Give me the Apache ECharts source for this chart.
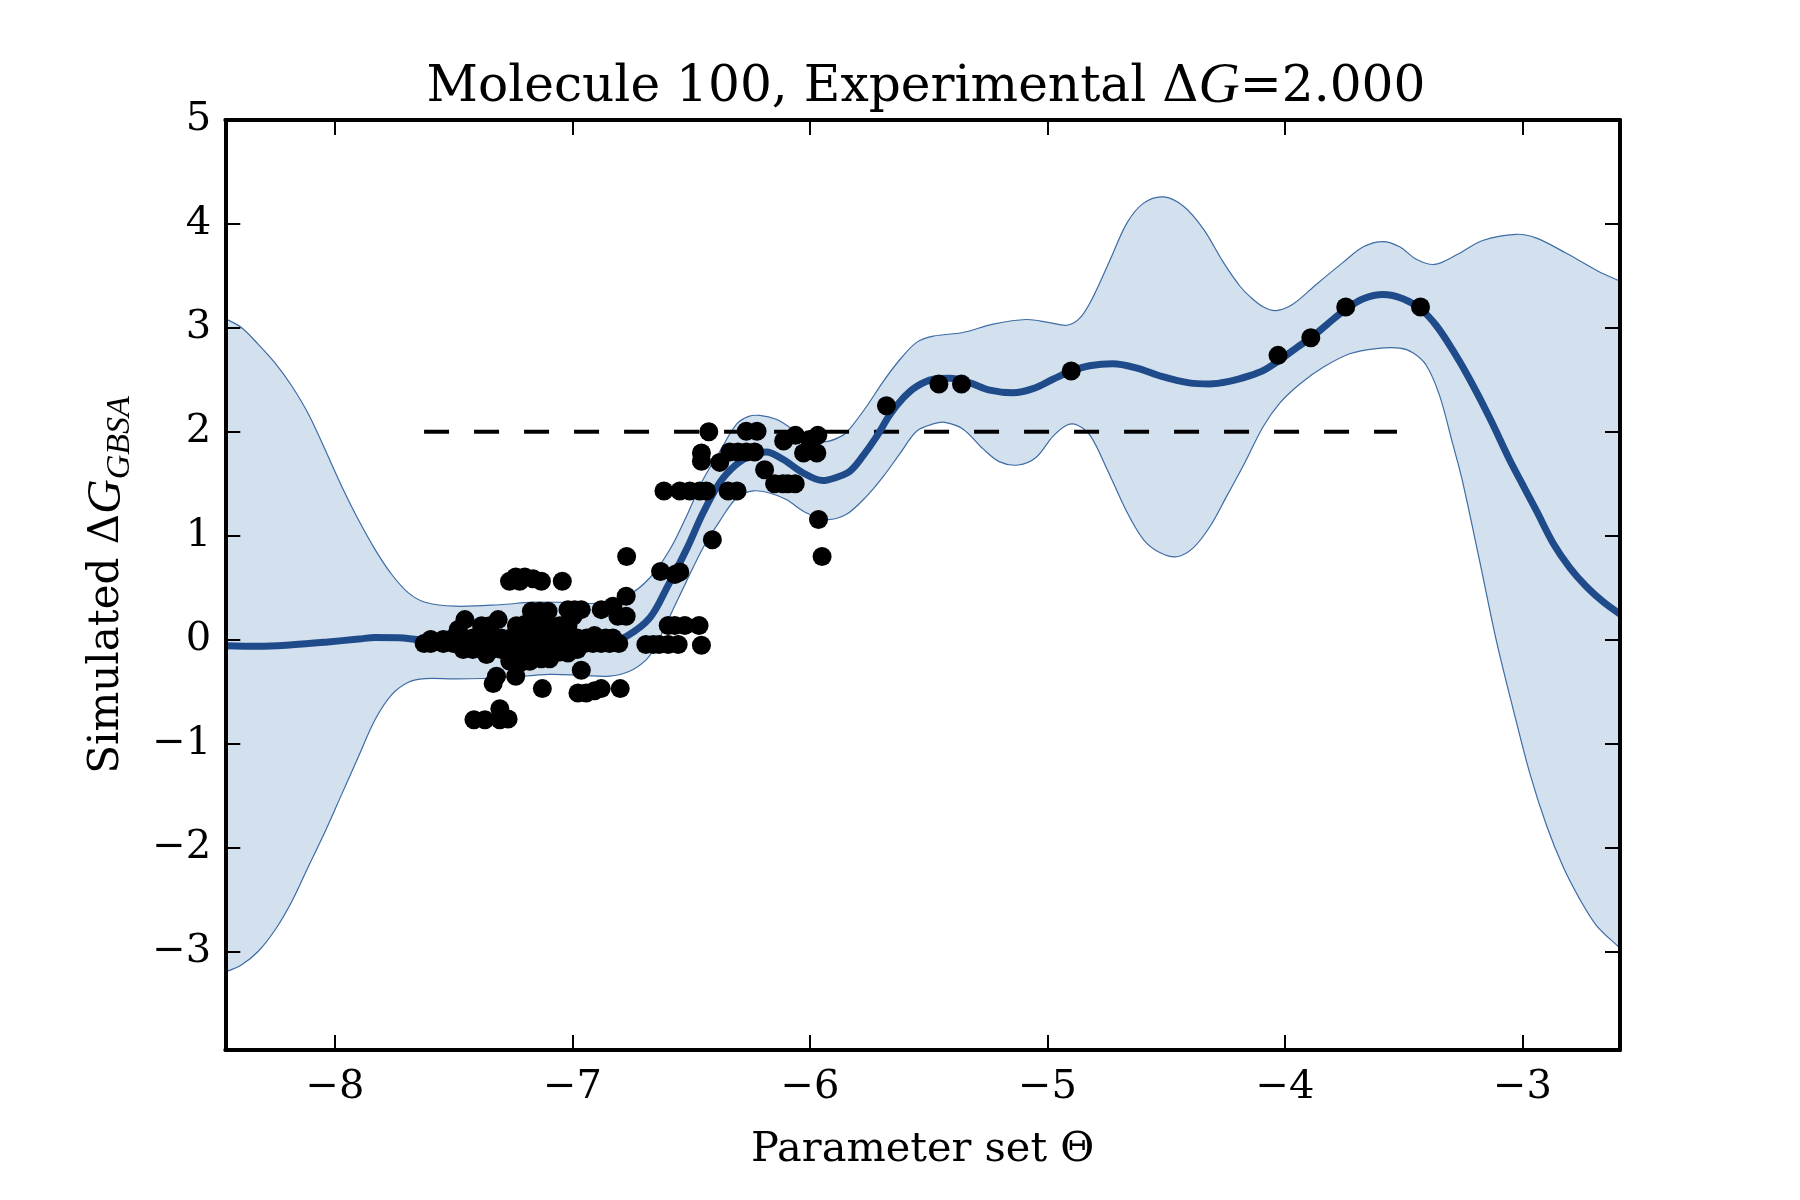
<!DOCTYPE html>
<html><head><meta charset="utf-8">
<style>html,body{margin:0;padding:0;background:#fff}#c{width:1800px;height:1200px}</style>
<script src="https://cdn.jsdelivr.net/npm/echarts@6/dist/echarts.min.js"></script>
</head><body><div id="c"></div>
<script>
const xTicks=[-8,-7,-6,-5,-4,-3];
const yTicks=[-3,-2,-1,0,1,2,3,4,5];
const upperX=[-8.5,-8.456,-8.393,-8.323,-8.252,-8.182,-8.112,-8.042,-7.972,-7.902,-7.831,-7.761,-7.691,-7.621,-7.495,-7.306,-7.166,-7.026,-6.886,-6.774,-6.676,-6.59,-6.52,-6.45,-6.38,-6.31,-6.261,-6.212,-6.142,-6.072,-6.002,-5.932,-5.862,-5.83,-5.761,-5.691,-5.621,-5.551,-5.481,-5.355,-5.229,-5.089,-4.991,-4.917,-4.861,-4.805,-4.735,-4.665,-4.595,-4.511,-4.427,-4.343,-4.259,-4.189,-4.147,-4.09,-4.037,-3.965,-3.867,-3.755,-3.67,-3.587,-3.517,-3.447,-3.37,-3.279,-3.167,-3.027,-2.943,-2.817,-2.677,-2.6,-2.56];
const upperY=[3.12,3.081,3.0,2.841,2.66,2.44,2.17,1.829,1.476,1.155,0.866,0.626,0.449,0.359,0.321,0.335,0.36,0.357,0.35,0.415,0.59,0.866,1.187,1.54,1.81,2.07,2.145,2.157,2.12,2.025,1.935,1.905,1.965,2.035,2.245,2.485,2.695,2.86,2.92,2.955,3.035,3.08,3.05,3.025,3.1,3.31,3.66,4.01,4.2,4.26,4.17,3.95,3.63,3.4,3.3,3.2,3.166,3.23,3.42,3.63,3.78,3.83,3.78,3.66,3.61,3.7,3.84,3.9,3.866,3.72,3.54,3.46,3.41];
const lowerX=[-8.5,-8.456,-8.393,-8.323,-8.252,-8.182,-8.112,-8.042,-7.972,-7.902,-7.831,-7.761,-7.691,-7.621,-7.495,-7.306,-7.096,-6.956,-6.844,-6.76,-6.69,-6.65,-6.59,-6.52,-6.45,-6.38,-6.31,-6.24,-6.17,-6.1,-6.016,-5.932,-5.848,-5.761,-5.691,-5.621,-5.551,-5.481,-5.432,-5.355,-5.271,-5.201,-5.124,-5.047,-4.977,-4.917,-4.875,-4.819,-4.749,-4.665,-4.595,-4.525,-4.455,-4.385,-4.315,-4.245,-4.175,-4.09,-4.02,-3.937,-3.839,-3.727,-3.615,-3.517,-3.461,-3.405,-3.349,-3.293,-3.254,-3.179,-3.109,-3.039,-2.969,-2.898,-2.828,-2.758,-2.688,-2.597,-2.56];
const lowerY=[-3.22,-3.194,-3.13,-3.0,-2.793,-2.52,-2.183,-1.85,-1.49,-1.13,-0.77,-0.53,-0.411,-0.376,-0.379,-0.37,-0.335,-0.345,-0.352,-0.305,-0.195,-0.065,0.225,0.56,0.884,1.14,1.36,1.43,1.41,1.347,1.22,1.155,1.203,1.38,1.57,1.79,2.005,2.075,2.09,2.025,1.835,1.71,1.68,1.755,1.955,2.065,2.065,1.96,1.64,1.225,0.96,0.835,0.797,0.885,1.09,1.38,1.675,2.055,2.28,2.46,2.62,2.75,2.8,2.805,2.76,2.64,2.35,1.88,1.541,0.744,-0.017,-0.669,-1.285,-1.792,-2.19,-2.5,-2.752,-2.952,-3.02];
const meanX=[-8.462,-8.32,-8.18,-8.04,-7.9,-7.83,-7.73,-7.65,-7.4,-7.0,-6.85,-6.77,-6.674,-6.6,-6.52,-6.45,-6.38,-6.31,-6.24,-6.184,-6.114,-6.03,-5.946,-5.89,-5.832,-5.776,-5.719,-5.663,-5.607,-5.551,-5.481,-5.411,-5.327,-5.243,-5.145,-5.061,-4.977,-4.9,-4.823,-4.725,-4.627,-4.515,-4.403,-4.319,-4.235,-4.147,-4.09,-4.028,-3.95,-3.89,-3.824,-3.743,-3.67,-3.587,-3.503,-3.428,-3.362,-3.292,-3.222,-3.138,-3.054,-3.014,-2.941,-2.87,-2.8,-2.73,-2.66,-2.589];
const meanY=[-0.06,-0.065,-0.05,-0.025,0.005,0.02,0.018,0.0,-0.03,-0.05,-0.03,0.035,0.21,0.51,0.868,1.22,1.51,1.685,1.785,1.805,1.735,1.605,1.53,1.56,1.62,1.77,1.955,2.165,2.325,2.435,2.505,2.515,2.47,2.4,2.375,2.415,2.505,2.585,2.635,2.655,2.615,2.53,2.47,2.46,2.485,2.54,2.59,2.68,2.81,2.905,3.03,3.18,3.28,3.32,3.28,3.18,3.02,2.78,2.505,2.135,1.73,1.555,1.24,0.925,0.69,0.508,0.363,0.245];
const targetX=[-7.625,-3.528];
const targetY=[2,2];
const pointX=[-7.625,-7.597,-7.544,-7.502,-7.46,-7.425,-7.39,-7.348,-7.306,-7.264,-7.222,-7.18,-7.138,-7.096,-7.054,-7.019,-6.984,-6.949,-6.914,-6.879,-6.844,-6.805,
-7.597,-7.544,-7.453,-7.481,-7.383,-7.313,-7.348,
-7.201,-7.173,-7.138,-7.103,-7.152,-7.019,-6.991,-6.963,-6.998,-7.026,-6.907,-6.879,-6.83,-6.774,-6.809,-6.774,
-7.236,-7.201,-7.166,-7.131,-7.096,-7.054,-7.019,-7.236,-7.201,-7.166,-7.131,-7.096,-7.054,-7.019,-7.236,-7.201,-7.166,-7.131,-7.096,-7.054,-7.236,-7.201,-7.166,-7.131,-7.096,
-7.502,-7.46,-7.42,-7.38,-7.34,-7.3,-7.26,-6.98,-6.94,-6.9,-6.86,-6.83,-7.46,-7.42,-7.38,-7.34,-7.3,-7.26,-6.98,
-7.362,-7.264,-7.222,-7.18,-7.019,-7.32,-7.334,-7.239,-6.963,-7.127,-6.977,-6.942,-6.907,-6.879,-6.799,
-7.415,-7.369,-7.306,-7.306,-7.271,
-7.265,-7.239,-7.222,-7.201,-7.166,-7.131,-7.043,
-6.772,-6.629,-6.569,-6.548,-6.411,-5.964,-5.949,
-6.597,-6.569,-6.527,-6.467,-6.691,-6.66,-6.635,-6.597,-6.555,-6.457,
-6.615,-6.548,-6.506,-6.464,-6.436,-6.345,-6.307,
-6.457,-6.457,-6.38,-6.426,-6.338,-6.303,-6.268,-6.233,-6.268,-6.223,-6.191,
-6.149,-6.114,-6.093,-6.062,-6.111,-6.061,-5.967,-6.002,-6.027,-5.971,
-5.678,-5.457,-5.362,-4.9,-4.029,-3.891,-3.744,-3.429];
const pointY=[-0.039,-0.039,-0.039,-0.039,-0.039,-0.039,-0.039,-0.039,-0.039,-0.039,-0.039,-0.039,-0.039,-0.039,-0.039,-0.039,-0.039,-0.039,-0.039,-0.039,-0.039,-0.039,
0.0,0.0,0.192,0.096,0.134,0.192,0.134,
0.144,0.272,0.272,0.272,0.192,0.288,0.288,0.288,0.224,0.144,0.038,0.288,0.32,0.417,0.224,0.224,
0.134,0.134,0.134,0.134,0.134,0.134,0.134,0.05,0.05,0.05,0.05,0.05,0.05,0.05,-0.12,-0.12,-0.12,-0.12,-0.12,-0.12,-0.185,-0.185,-0.185,-0.185,-0.185,
0.015,0.015,0.015,0.015,0.015,0.015,0.015,0.015,0.015,0.015,0.015,0.015,-0.095,-0.095,-0.095,-0.095,-0.095,-0.095,-0.095,
-0.145,-0.209,-0.225,-0.209,-0.129,-0.354,-0.424,-0.354,-0.296,-0.472,-0.514,-0.514,-0.492,-0.472,-0.472,
-0.771,-0.771,-0.665,-0.771,-0.765,
0.561,0.603,0.561,0.603,0.585,0.561,0.561,
0.8,0.655,0.625,0.65,0.96,1.155,0.8,
0.135,0.135,0.135,0.135,-0.048,-0.048,-0.048,-0.048,-0.048,-0.055,
1.43,1.43,1.43,1.43,1.43,1.43,1.43,
1.795,1.715,1.705,2.0,1.805,1.805,1.805,1.805,2.005,2.005,1.635,
1.5,1.5,1.5,1.5,1.91,1.965,1.965,1.925,1.795,1.795,
2.25,2.46,2.46,2.585,2.735,2.905,3.2,3.2];

const zip=(a,b)=>a.map((v,i)=>[v,b[i]]);
const FONT='"DejaVu Serif"';
const IT='"Liberation Serif"';
const BLUE='#1F4B8A', EDGE='#3E6CA3', FILL='#D3E1EF';
const fmt=v=>String(v).replace('-','\u2212');
const xBase={type:'value',min:-8.462,max:-2.589,splitLine:{show:false},z:10,
  axisLine:{show:true,onZero:false,lineStyle:{color:'#000',width:4}},
  axisTick:{show:true,inside:true,length:15,lineStyle:{color:'#000',width:2},customValues:xTicks}};
const yBase={type:'value',min:-3.95,max:5,splitLine:{show:false},z:10,
  axisLine:{show:true,onZero:false,lineStyle:{color:'#000',width:4}},
  axisTick:{show:true,inside:true,length:15,lineStyle:{color:'#000',width:2},customValues:yTicks}};
const chart=echarts.init(document.getElementById('c'),null,{renderer:'canvas'});
chart.setOption({
  animation:false,backgroundColor:'#fff',
  title:{left:921,top:54,textAlign:'center',
    text:'{a|Molecule 100, Experimental \u0394}{g|G}{a|=2.000}',
    textStyle:{fontWeight:'normal',rich:{a:{fontFamily:FONT,fontWeight:'normal',fontSize:50.2,color:'#000'},g:{fontFamily:IT,fontWeight:'normal',fontStyle:'italic',fontSize:57,color:'#000'}}}},
  grid:{left:225.3,right:180,top:120,bottom:150,containLabel:false},
  xAxis:[
    Object.assign({},xBase,{position:'bottom',name:'Parameter set \u0398',nameLocation:'middle',nameGap:79,
      nameTextStyle:{fontFamily:FONT,fontSize:41.5,color:'#000'},
      axisLabel:{show:true,customValues:xTicks,formatter:fmt,fontFamily:FONT,fontSize:40,color:'#000',margin:18,hideOverlap:false}}),
    Object.assign({},xBase,{position:'top',axisLabel:{show:false}})
  ],
  yAxis:[
    Object.assign({},yBase,{position:'left',name:'{a|Simulated \u0394}{g|G}{s|GBSA}',nameLocation:'middle',nameGap:88,nameRotate:90,
      nameTextStyle:{rich:{a:{fontFamily:FONT,fontSize:42,color:'#000',lineHeight:60},g:{fontFamily:IT,fontStyle:'italic',fontSize:48,color:'#000',lineHeight:60},s:{fontFamily:IT,fontStyle:'italic',fontSize:34,color:'#000',lineHeight:30,verticalAlign:'bottom'}}},
      axisLabel:{show:true,customValues:yTicks,formatter:fmt,fontFamily:FONT,fontSize:40,color:'#000',margin:14,hideOverlap:false}}),
    Object.assign({},yBase,{position:'right',axisLabel:{show:false}})
  ],
  series:[
    {type:'custom',name:'band',coordinateSystem:'cartesian2d',xAxisIndex:0,yAxisIndex:0,clip:true,z:1,silent:true,
      data:[[upperX[0],upperY[0]]],
      renderItem:function(params,api){
        const pts=[];
        for(let i=0;i<upperX.length;i++)pts.push(api.coord([upperX[i],upperY[i]]));
        for(let i=lowerX.length-1;i>=0;i--)pts.push(api.coord([lowerX[i],lowerY[i]]));
        return {type:'polygon',shape:{points:pts,smooth:0.33},style:{fill:FILL,stroke:EDGE,lineWidth:1.2}};
      }},
    {type:'line',name:'target',data:zip(targetX,targetY),showSymbol:false,z:3,lineStyle:{color:'#000',width:4,type:[25,25]}},
    {type:'line',name:'mean',data:zip(meanX,meanY),showSymbol:false,smooth:0.35,z:4,lineStyle:{color:BLUE,width:7,cap:'butt'}},
    {type:'scatter',name:'points',data:zip(pointX,pointY),symbolSize:19,z:5,itemStyle:{color:'#000',opacity:1}}
  ]
});
</script></body></html>
